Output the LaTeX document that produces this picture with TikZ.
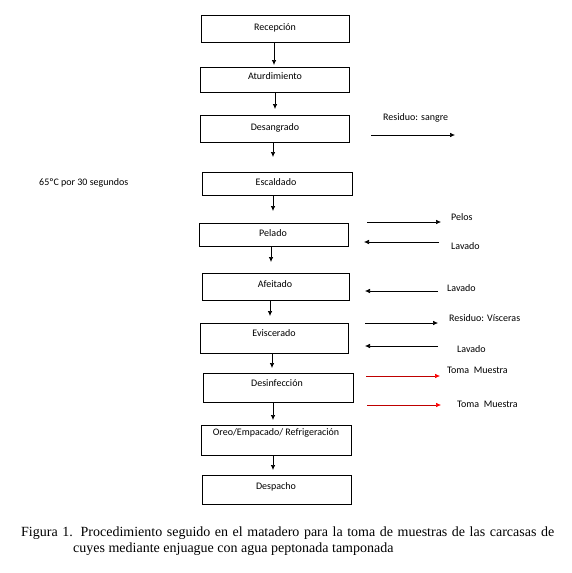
\documentclass[tikz,border=0pt]{standalone}
\usepackage{fontspec}
\setmainfont{Carlito}
\newfontfamily\capfont{Liberation Serif}
\usetikzlibrary{arrows.meta}
\begin{document}
\begin{tikzpicture}[x=1pt,y=-1pt,
  box/.style={draw, line width=0.8pt, inner sep=0pt},
  lbl/.style={font=\fontsize{10}{12}\selectfont, inner sep=0pt},
  side/.style={font=\fontsize{10}{12}\selectfont, inner sep=0pt, anchor=west},
  flow/.style={line width=0.7pt, -{Latex[length=5pt,width=4.5pt]}},
  sarr/.style={line width=0.6pt, -{Latex[length=5pt,width=4.5pt]}},
  rarr/.style={line width=0.6pt, draw=red!75!black, -{Latex[length=5pt,width=4.5pt,fill=red,color=red]}},
  capt/.style={anchor=base west, inner sep=0pt, font=\capfont\fontsize{14}{16}\selectfont}]
\useasboundingbox (0,0) rectangle (572,573);
% boxes: left, top, right, bottom
\newcommand{\mybox}[5]{%
  \node[box, minimum width={#3-#1}, minimum height={#4-#2}] (#5) at ({(#1+#3)/2},{(#2+#4)/2}) {};
}
\mybox{201}{15}{349}{42}{b1}
\mybox{200}{67}{349}{92}{b2}
\mybox{200}{115}{349}{142}{b3}
\mybox{202}{172}{352}{195}{b4}
\mybox{199}{223}{348}{246}{b5}
\mybox{202}{273}{349}{300}{b6}
\mybox{200}{323}{348}{353}{b7}
\mybox{203}{373}{353}{402}{b8}
\mybox{201}{425}{351}{455}{b9}
\mybox{202}{475}{351}{504}{b10}
\node[lbl] (t1) at (275,27.5) {Recepción};
\node[lbl] (t2) at (275,76.5) {Aturdimiento};
\node[lbl] (t3) at (275,127.5) {Desangrado};
\node[lbl] (t4) at (276,182.5) {Escaldado};
\node[lbl] (t5) at (273,233.5) {Pelado};
\node[lbl] (t6) at (275,284.5) {Afeitado};
\node[lbl] (t7) at (274,333.5) {Eviscerado};
\node[lbl] (t8) at (277,383.5) {Desinfección};
\node[lbl] (t9) at (276,432.5) {Oreo/Empacado/ Refrigeración};
\node[lbl] (t10) at (276,486.5) {Despacho};
% flow arrows
\coordinate (e1) at (274,65);
\coordinate (e2) at (275,109);
\coordinate (e3) at (273,157);
\coordinate (e4) at (273,211);
\coordinate (e5) at (271,262);
\coordinate (e6) at (270,316);
\coordinate (e7) at (272,368);
\coordinate (e8) at (273,420);
\coordinate (e9) at (273,470);
\draw[flow] (b1.south -| e1) -- (e1);
\draw[flow] (b2.south -| e2) -- (e2);
\draw[flow] (b3.south -| e3) -- (e3);
\draw[flow] (b4.south -| e4) -- (e4);
\draw[flow] (b5.south -| e5) -- (e5);
\draw[flow] (b6.south -| e6) -- (e6);
\draw[flow] (b7.south -| e7) -- (e7);
\draw[flow] (b8.south -| e8) -- (e8);
\draw[flow] (b9.south -| e9) -- (e9);
% side notes
\node[side] (n0) at (39,183) {65ºC por 30 segundos};
\node[side] (s1) at (383,118) {Residuo: sangre};
\coordinate (a1s) at (371,135); \coordinate (a1e) at (455,135);
\draw[sarr] (a1s) -- (a1e);
\node[side] (s2) at (451,217) {Pelos};
\coordinate (a2s) at (367,222); \coordinate (a2e) at (441,222);
\draw[sarr] (a2s) -- (a2e);
\node[side] (s3) at (451,246) {Lavado};
\coordinate (a3s) at (439,242); \coordinate (a3e) at (364,242);
\draw[sarr] (a3s) -- (a3e);
\node[side] (s4) at (447,288) {Lavado};
\coordinate (a4s) at (438,291); \coordinate (a4e) at (365,291);
\draw[sarr] (a4s) -- (a4e);
\node[side] (s5) at (449,318) {Residuo: Vísceras};
\coordinate (a5s) at (365,323); \coordinate (a5e) at (438,323);
\draw[sarr] (a5s) -- (a5e);
\node[side] (s6) at (457,349) {Lavado};
\coordinate (a6s) at (438,346); \coordinate (a6e) at (365,346);
\draw[sarr] (a6s) -- (a6e);
\node[side] (s7) at (447,370) {Toma\ \ Muestra};
\coordinate (a7s) at (366,376); \coordinate (a7e) at (440,376);
\draw[rarr] (a7s) -- (a7e);
\node[side] (s8) at (457,404) {Toma\ \ Muestra};
\coordinate (a8s) at (367,405); \coordinate (a8e) at (441,405);
\draw[rarr] (a8s) -- (a8e);
% caption
\node[capt] (c1) at (21,536) {\makebox[533pt][s]{Figura 1. Procedimiento seguido en el matadero para la toma de muestras de las carcasas de}};
\node[capt] (c2) at (73,552) {cuyes mediante enjuague con agua peptonada tamponada};
\end{tikzpicture}
\end{document}
